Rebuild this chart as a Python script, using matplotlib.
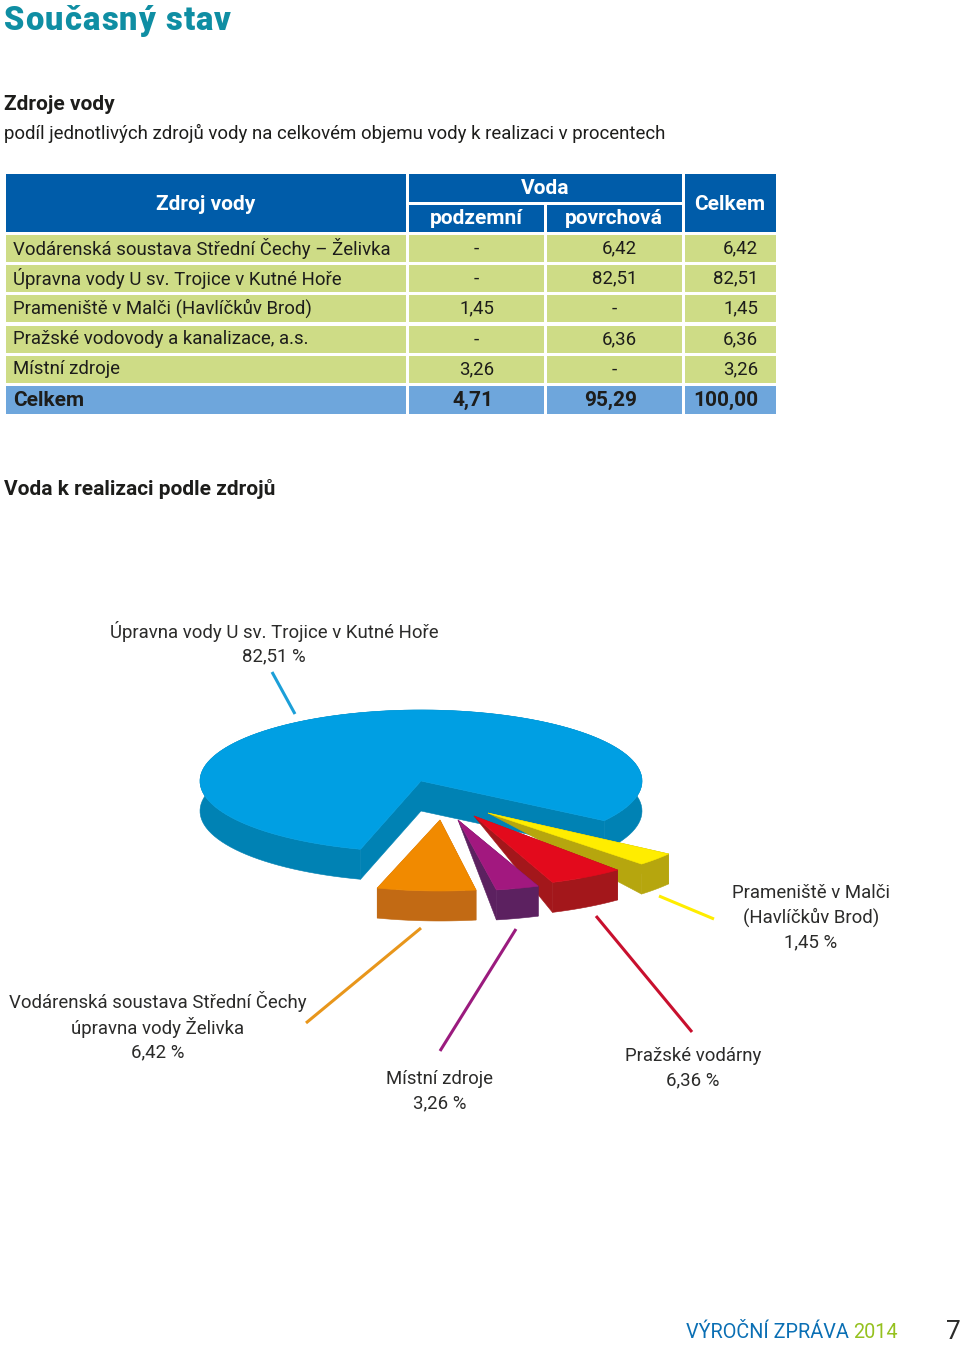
import numpy as np
import matplotlib
matplotlib.use("Agg")
import matplotlib.pyplot as plt
from matplotlib.patches import Rectangle, Polygon

FONT = "Roboto"
plt.rcParams["font.family"] = [FONT, "DejaVu Sans"]

# ---------- data ----------
sources = ["Vodárenská soustava Střední Čechy – Želivka", "Úpravna vody U sv. Trojice v Kutné Hoře",
           "Prameniště v Malči (Havlíčkův Brod)", "Pražské vodovody a kanalizace, a.s.", "Místní zdroje"]
underground = ["-", "-", "1,45", "-", "3,26"]
surface = ["6,42", "82,51", "-", "6,36", "-"]
totals = ["6,42", "82,51", "1,45", "6,36", "3,26"]
sum_row = ["Celkem", "4,71", "95,29", "100,00"]

pie_names = ["upravna", "malec", "prazske", "mistni", "zelivka"]
pie_values = [82.51, 1.45, 6.36, 3.26, 6.42]

# ---------- styling ----------
TOP = ["#009fe3", "#ffed00", "#e30a1c", "#a2187f", "#f18a00"]
SIDE = ["#0082b4", "#b6a60e", "#a3171b", "#5c2160", "#c26a14"]
START = [-34, -46, -69.2, -80, -106.5]            # lower-angle end of each slice
SWEEP_K = [0.97, 2.07, 0.86, 0.96, 1.12]          # the drawing's perspective distortion
APEX = [(421, 781), (488, 813), (474, 816), (458, 820), (440, 820)]
APEX_DEPTH = [30, 0, 0, 0, 0]
DEPTH = 30
RX, RY = 221, 71
INK = "#1d1d1b"
BODY = 13.45
BOLD = 15.0

fig = plt.figure(figsize=(9.6, 13.45), dpi=100)
ax = fig.add_axes([0, 0, 1, 1])
ax.set_xlim(0, 960)
ax.set_ylim(1345, 0)
ax.axis("off")
renderer = fig.canvas.get_renderer()


def put(x, y, s, size=BODY, ha="left", color=INK, weight="normal", **kw):
    return ax.text(x, y, s, fontsize=size, ha=ha, va="center", color=color, weight=weight, **kw)


def tracked(x, y, s, tracking, **kw):
    """Letter-spaced text: one real text per letter, advancing by the measured prefix width."""
    for i, ch in enumerate(s):
        probe = put(0, 0, s[:i] + "|", **kw)
        bar = put(0, 0, "|", **kw)
        w = probe.get_window_extent(renderer).width - bar.get_window_extent(renderer).width
        probe.remove()
        bar.remove()
        put(x + w + tracking * i, y, ch, **kw)


# ---------- headings ----------
tracked(4, 21, "Současný stav", 1.1, size=23.5, color="#0f8ea3", weight=900)
put(4, 104, "Zdroje vody", size=BOLD, weight="bold")
put(4, 133, "podíl jednotlivých zdrojů vody na celkovém objemu vody k realizaci v procentech")
put(4, 489, "Voda k realizaci podle zdrojů", size=BOLD, weight="bold")

# ---------- table ----------
HEAD, ROW, SUM = "#005ca9", "#cedc86", "#6ea6dc"
cols = [(6, 406), (409, 544), (547, 682), (685, 776)]
rows = [(235, 262), (265, 292), (295, 322), (326, 353), (356, 383)]
sum_y = (386, 414)


def cell(x0, x1, y0, y1, color):
    ax.add_patch(Rectangle((x0, y0), x1 - x0, y1 - y0, fc=color, ec="none"))


cell(6, 406, 174, 232, HEAD)
cell(409, 682, 174, 202, HEAD)
cell(409, 544, 205, 232, HEAD)
cell(547, 682, 205, 232, HEAD)
cell(685, 776, 174, 232, HEAD)
for x, y, s in [(206, 204, "Zdroj vody"), (545, 189, "Voda"), (476, 219, "podzemní"),
                (614, 219, "povrchová"), (730, 204, "Celkem")]:
    put(x, y, s, size=BOLD, ha="center", color="white", weight="bold")
for (y0, y1), a, b, c, d in zip(rows, sources, underground, surface, totals):
    for x0, x1 in cols:
        cell(x0, x1, y0, y1, ROW)
    ym = (y0 + y1) / 2
    put(13, ym, a)
    put(476, ym, b, ha="center") if b == "-" else put(494, ym, b, ha="right")
    put(614, ym, c, ha="center") if c == "-" else put(637, ym, c, ha="right")
    put(758, ym, d, ha="right")
for x0, x1 in cols:
    cell(x0, x1, sum_y[0], sum_y[1], SUM)
ym = sum(sum_y) / 2
put(13, ym, sum_row[0], size=BOLD, weight="bold")
put(493, ym, sum_row[1], size=BOLD, ha="right", weight="bold")
put(637, ym, sum_row[2], size=BOLD, ha="right", weight="bold")
put(758, ym, sum_row[3], size=BOLD, ha="right", weight="bold")


# ---------- exploded 3-D pie ----------
def arc(apex, t0, t1, n=120):
    t = np.radians(np.linspace(t0, t1, n))
    return np.c_[apex[0] + RX * np.cos(t), apex[1] - RY * np.sin(t)]


for i in range(len(pie_values)):
    sweep = pie_values[i] * 3.6 * SWEEP_K[i]
    t0, t1 = START[i], START[i] + sweep
    apex = APEX[i]
    pts = arc(apex, t0, t1)
    down = np.array([0, DEPTH])
    low_apex = (apex[0], apex[1] + APEX_DEPTH[i])
    sc = SIDE[i]
    ax.add_patch(Polygon(np.r_[pts, (pts + down)[::-1]], fc=sc, ec=sc, lw=0.4))
    ax.add_patch(Polygon([apex, pts[0], pts[0] + down, low_apex], fc=sc, ec=sc, lw=0.4))
    ax.add_patch(Polygon([apex, pts[-1], pts[-1] + down, low_apex], fc=sc, ec=sc, lw=0.4))
    ax.add_patch(Polygon(np.r_[[apex], pts], fc=TOP[i], ec=TOP[i], lw=0.4))

# ---------- leader lines ----------
leaders = [((272, 672), (295, 714), "#1c9fd8"), ((306, 1023), (421, 928), "#e8961b"),
           ((440, 1051), (516, 929), "#9b1b7e"), ((692, 1032), (596, 916), "#c8102e"),
           ((659, 896), (714, 919), "#ffed00")]
for p, q, c in leaders:
    ax.plot([p[0], q[0]], [p[1], q[1]], color=c, lw=2.2, solid_capstyle="butt")

# ---------- pie labels ----------
labels = [(274, [(631, "Úpravna vody U sv. Trojice v Kutné Hoře"), (656, "82,51 %")]),
          (811, [(893, "Prameniště v Malči"), (917, "(Havlíčkův Brod)"), (942, "1,45 %")]),
          (158, [(1002, "Vodárenská soustava Střední Čechy"), (1027, "úpravna vody Želivka"), (1052, "6,42 %")]),
          (440, [(1079, "Místní zdroje"), (1103, "3,26 %")]),
          (693, [(1056, "Pražské vodárny"), (1080, "6,36 %")])]
for x, lines in labels:
    for y, s in lines:
        put(x, y, s, ha="center", color="#2b2b2a")

# ---------- footer ----------
put(686, 1333, "VÝROČNÍ ZPRÁVA", size=14.3, color="#0a6fb4")
put(853, 1333, "2014", size=14.3, color="#95c11f")
put(946, 1332, "7", size=19, color="#2b2b2a")

fig.savefig("out.png", dpi=100, facecolor="white")
